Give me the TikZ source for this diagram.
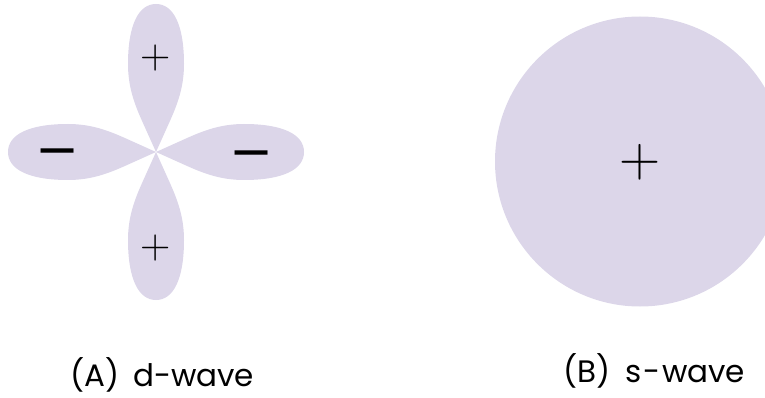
\documentclass[tikz,border=0pt]{standalone}
\usepackage{fontspec}
\newfontfamily\labelfont{Poppins}
\newfontfamily\signfont{DejaVu Sans}
\definecolor{lav}{RGB}{220,214,233}
\tikzset{
  lobe/.style={fill=lav,draw=none},
  sign/.style={inner sep=0pt,anchor=base},
  minussign/.style={sign,font=\signfont\fontsize{52.6}{52.6}\selectfont},
  lbl/.style={inner sep=0pt,anchor=base west,font=\labelfont\fontsize{31}{31}\selectfont}
}
\newcommand\lobe[2]{\fill[lobe,shift={#1},rotate=#2] (0,0) -- (30,13.5) .. controls (48,21.6) and (65,28) .. (88,28) .. controls (126,28) and (148,18) .. (148,0) .. controls (148,-18) and (126,-28) .. (88,-28) .. controls (65,-28) and (48,-21.6) .. (30,-13.5) -- cycle;}
\begin{document}
\begin{tikzpicture}[x=1pt,y=-1pt]
\useasboundingbox (0,0) rectangle (765,398);
\begin{scope}
\clip (0,0) rectangle (765,398);
\lobe{(156,152)}{0}
\lobe{(156,152)}{90}
\lobe{(156,152)}{180}
\lobe{(156,152)}{270}
\fill[lav] (640,161.5) circle[radius=145];
\end{scope}
\node[sign,font=\fontsize{42}{42}\selectfont] (pt) at (156,68.5) {+};
\node[sign,font=\fontsize{42}{42}\selectfont] (pb) at (156,258.5) {+};
\node[minussign] (ml) at (57.5,167.8) {−};
\node[minussign] (mr) at (251.5,169.2) {−};
\node[sign,font=\fontsize{57}{57}\selectfont] (ps) at (640,176.25) {+};
\node[lbl] (la) at (70,386.5) {(A)\hspace{0.45em}d-wave};
\node[lbl] (lb) at (563,382) {(B)\hspace{0.5em}s\kern1.5pt-\kern1.5pt wave};
\end{tikzpicture}
\end{document}
